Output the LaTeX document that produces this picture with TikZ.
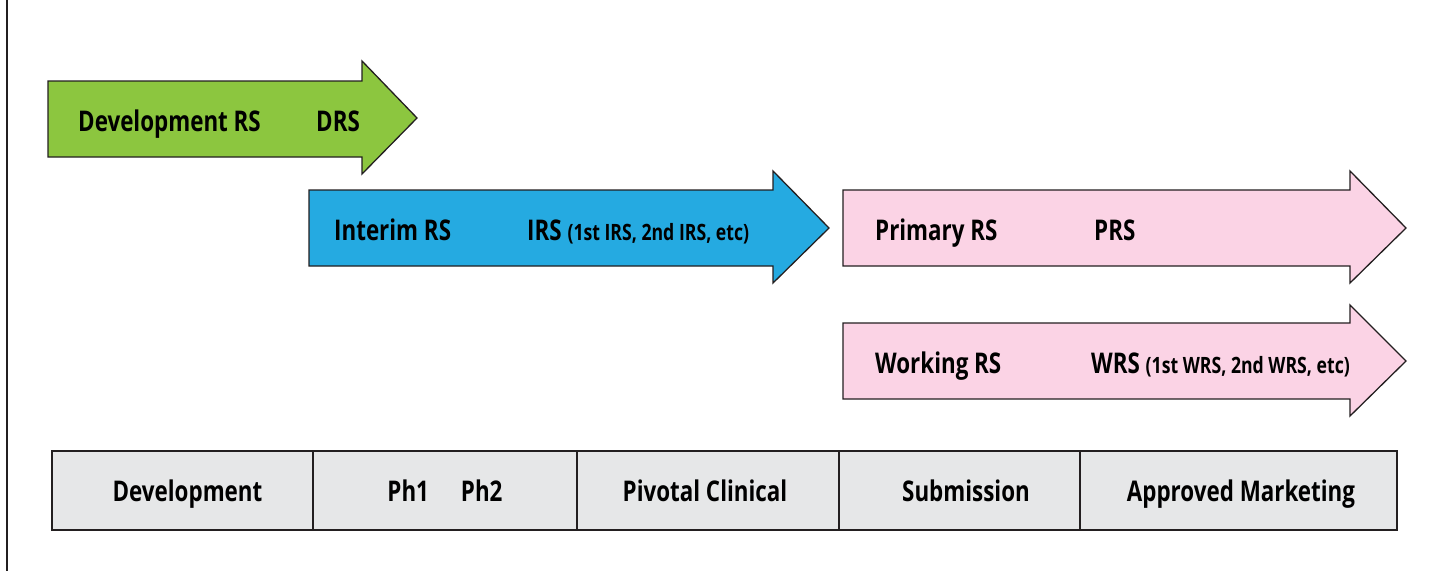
\documentclass[tikz,border=0pt]{standalone}
\usepackage{fontspec}
\setmainfont{Open Sans}[FakeStretch=0.785]
\definecolor{rsgreen}{HTML}{8CC63F}
\definecolor{rsblue}{HTML}{25AAE1}
\definecolor{rspink}{HTML}{FBD3E5}
\definecolor{rsgray}{HTML}{E6E7E8}
\definecolor{rsline}{HTML}{231F20}
\newcommand\rssmall[1]{{\fontsize{22.5}{25}\selectfont\bfseries #1}}
\tikzset{
  arrowshape/.style={draw=rsline, line width=1.3pt, line join=miter},
  lbl/.style={anchor=base west, inner sep=0pt, font=\fontsize{28.5}{32}\selectfont\bfseries},
  cell/.style={draw=rsline, fill=rsgray, line width=1.3pt},
  celltxt/.style={anchor=base, inner sep=0pt, font=\fontsize{28.5}{32}\selectfont\bfseries}
}
\begin{document}
\begin{tikzpicture}[x=1pt,y=-1pt]
\useasboundingbox (0,0) rectangle (1440,571);
\draw[rsline, line width=1.5pt] (7,0) -- (7,571);
% green arrow
\draw[arrowshape, fill=rsgreen] (48,81) -- (362,81) -- (362,61) -- (417,118) -- (362,174) -- (362,157) -- (48,157) -- cycle;
\node[lbl] (devrs) at (78,131) {Development RS};
\node[lbl] (drs) at (316,131) {DRS};
% blue arrow
\draw[arrowshape, fill=rsblue] (309,190) -- (773,190) -- (773,171) -- (829,228) -- (773,283) -- (773,266) -- (309,266) -- cycle;
\node[lbl] (intrs) at (334,240) {Interim RS};
\node[lbl] (irs) at (527,240) {IRS \rssmall{(1st IRS, 2nd IRS, etc)}};
% pink arrow 1
\draw[arrowshape, fill=rspink] (843,190) -- (1350,190) -- (1350,171) -- (1406,228) -- (1350,283) -- (1350,266) -- (843,266) -- cycle;
\node[lbl] (primrs) at (875,240) {Primary RS};
\node[lbl] (prs) at (1094,240) {PRS};
% pink arrow 2
\draw[arrowshape, fill=rspink] (843,323) -- (1350,323) -- (1350,305) -- (1406,361) -- (1350,416) -- (1350,399) -- (843,399) -- cycle;
\node[lbl] (workrs) at (875,373) {Working RS};
\node[lbl] (wrs) at (1091,373) {WRS \rssmall{(1st WRS, 2nd WRS, etc)}};
% table
\draw[cell] (52,451) rectangle (313,530);
\draw[cell] (313,451) rectangle (577,530);
\draw[cell] (577,451) rectangle (839,530);
\draw[cell] (839,451) rectangle (1080,530);
\draw[cell] (1080,451) rectangle (1397,530);
\node[celltxt] (c1) at (187.5,501) {Development};
\node[celltxt] (c2) at (445,501) {Ph1\hspace{32pt}Ph2};
\node[celltxt] (c3) at (705,501) {Pivotal Clinical};
\node[celltxt] (c4) at (966,501) {Submission};
\node[celltxt] (c5) at (1241,501) {Approved Marketing};
\end{tikzpicture}
\end{document}
